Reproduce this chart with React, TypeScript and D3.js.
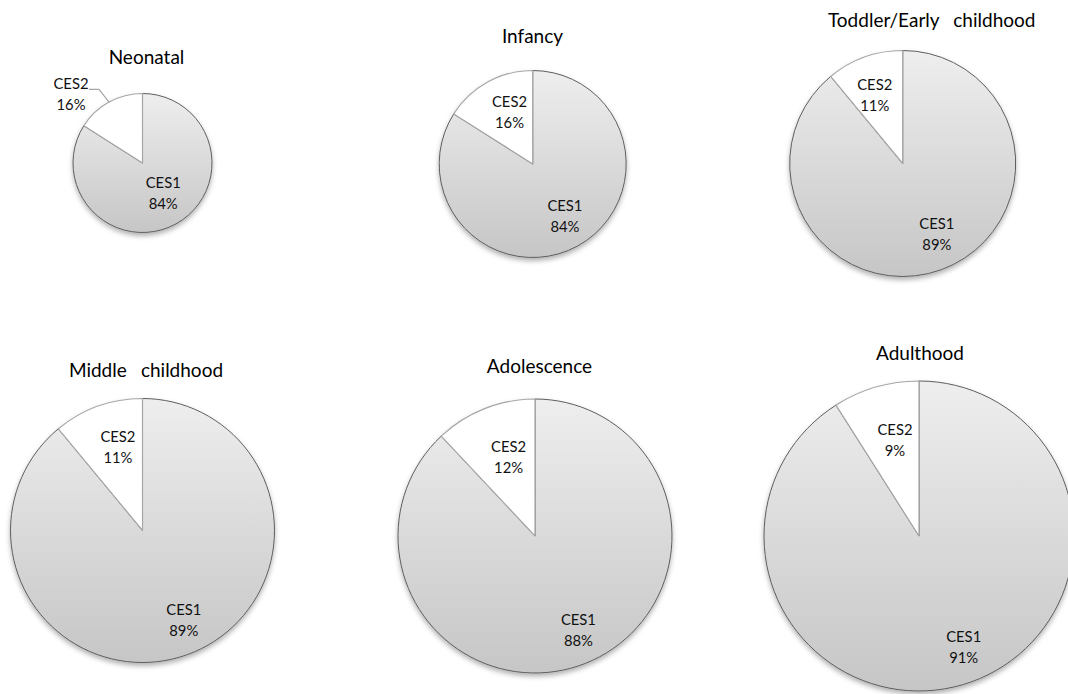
import React from "react";
import * as d3 from "d3";

// ---- data ----
const stages = ["Neonatal", "Infancy", "Toddler/Early  childhood", "Middle  childhood", "Adolescence", "Adulthood"];
const categories = ["CES1", "CES2"];
const ces1Values = [84, 84, 89, 89, 88, 91];
const ces2Values = [16, 16, 11, 11, 12, 9];

// ---- layout (positions/sizes only) ----
const W = 1068;
const H = 694;
const pieLayout = [
  { cx: 142.5, cy: 163, r: 69.5, tx: 146.5, ty: 56.5 },
  { cx: 532.7, cy: 164, r: 93.5, tx: 532.5, ty: 35 },
  { cx: 902.7, cy: 163.5, r: 113, tx: 931.7, ty: 19.5 },
  { cx: 142.5, cy: 530.5, r: 132, tx: 146, ty: 369 },
  { cx: 535, cy: 536, r: 137, tx: 539.5, ty: 365.5 },
  { cx: 919, cy: 536, r: 155, tx: 920, ty: 352.5 },
];
// label placement: [angle in degrees clockwise from 12 o'clock, radius fraction]
const ces1LabelPos = [[145, 0.52], [148, 0.65], [154, 0.69], [155, 0.74], [155, 0.75], [158, 0.77]];
const ces2LabelPos = [[314, 1.43], [336, 0.61], [338, 0.66], [343.6, 0.66], [341.6, 0.61], [346, 0.64]];
const ces2Outside = [true, false, false, false, false, false];

const FONT = "Lato, 'Liberation Sans', sans-serif";
const LABEL_SIZE = 14.8;
const TITLE_SIZE = 19;
const LINE_GAP = 21;

function polar(cx: number, cy: number, deg: number, rad: number) {
  const a = (deg * Math.PI) / 180;
  return [cx + rad * Math.sin(a), cy - rad * Math.cos(a)];
}

function Pie({ i }: { i: number }) {
  const L = pieLayout[i];
  const values = [ces1Values[i], ces2Values[i]];
  const pieGen = d3.pie<number>().sort(null).value((d) => d);
  const arcs = pieGen(values);
  const arcGen = d3.arc<d3.PieArcDatum<number>>().innerRadius(0).outerRadius(L.r);
  const labels = [ces1LabelPos[i], ces2LabelPos[i]];
  const texts = [
    `${categories[0]}|${ces1Values[i]}%`,
    `${categories[1]}|${ces2Values[i]}%`,
  ];
  let leader: string | null = null;
  if (ces2Outside[i]) {
    const a = arcs[1];
    const mid = ((a.startAngle + a.endAngle) / 2) * (180 / Math.PI);
    const [sx, sy] = polar(L.cx, L.cy, mid, L.r);
    const ex = sx - 10;
    const ey = sy - 12.7;
    leader = `M${sx},${sy}L${ex},${ey}L${ex - 10},${ey}`;
  }
  return (
    <g>
      <text
        x={L.tx}
        y={L.ty}
        textAnchor="middle"
        dominantBaseline="central"
        fontFamily={FONT}
        fontSize={TITLE_SIZE}
        fill="#000"
        wordSpacing={2.2}
        style={{ whiteSpace: "pre" }}
      >
        {stages[i]}
      </text>
      <g transform={`translate(${L.cx},${L.cy})`} filter="url(#shadow)">
        <path d={arcGen(arcs[0]) || ""} fill="url(#grad)" stroke="#5e5e5e" strokeWidth={1} />
        <path d={arcGen(arcs[1]) || ""} fill="#ffffff" stroke="#a6a6a6" strokeWidth={1.2} strokeLinejoin="round" />
      </g>
      {leader && <path d={leader} fill="none" stroke="#a6a6a6" strokeWidth={1.2} />}
      {labels.map((lp, j) => {
        const [x, y] = polar(L.cx, L.cy, lp[0], lp[1] * L.r);
        const [l1, l2] = texts[j].split("|");
        return (
          <g key={j} fontFamily={FONT} fontSize={LABEL_SIZE} fill="#111" textAnchor="middle">
            <text x={x} y={y - LINE_GAP / 2} dominantBaseline="central">{l1}</text>
            <text x={x} y={y + LINE_GAP / 2} dominantBaseline="central">{l2}</text>
          </g>
        );
      })}
    </g>
  );
}

export default function App() {
  return (
    <svg
      width={W}
      height={H}
      style={{ position: "absolute", left: 0, top: 0, background: "#fff" }}
    >
      <defs>
        <linearGradient id="grad" x1="0" y1="0" x2="0" y2="1">
          <stop offset="0" stopColor="#eeeeee" />
          <stop offset="1" stopColor="#c6c6c6" />
        </linearGradient>
        <filter id="shadow" x="-10%" y="-10%" width="120%" height="125%">
          <feDropShadow dx="0" dy="3" stdDeviation="2.5" floodColor="#000" floodOpacity="0.3" />
        </filter>
      </defs>
      <rect width={W} height={H} fill="#fff" />
      {stages.map((_, i) => (
        <Pie key={i} i={i} />
      ))}
    </svg>
  );
}
